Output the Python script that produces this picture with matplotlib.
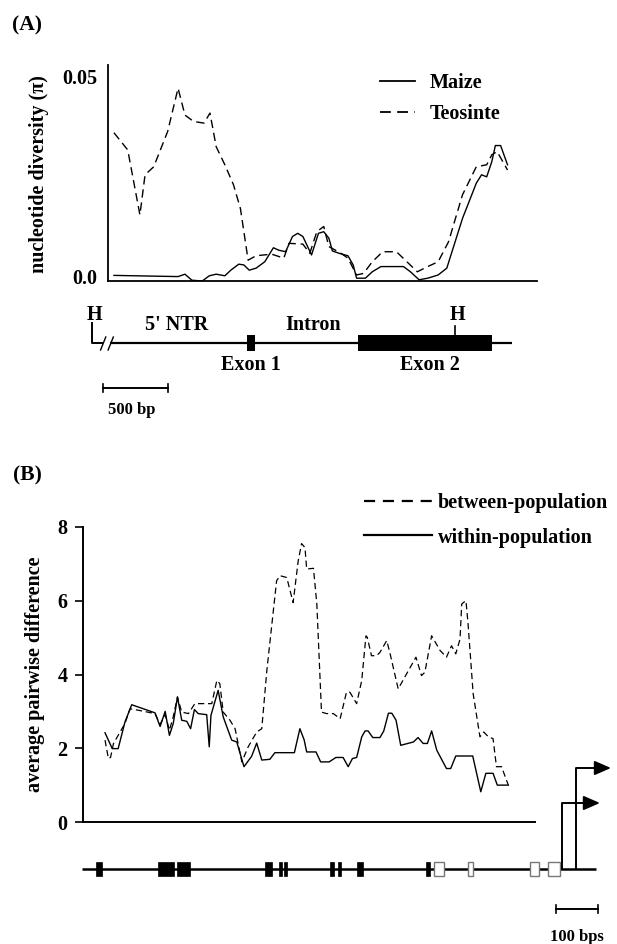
import matplotlib
matplotlib.use('Agg')
import matplotlib.pyplot as plt
from matplotlib.lines import Line2D
from matplotlib.patches import Rectangle

W, H = 617, 944
plt.rcParams['font.family'] = ['Liberation Serif', 'DejaVu Serif']
plt.rcParams['font.weight'] = 'bold'
FS = 14.5

# ---------------- Panel A data (position in bp, nucleotide diversity) ----------------
posA_teo = [44, 146, 236, 274, 338, 441, 518, 569, 633, 710, 754, 800, 864, 928, 979,
            1036, 1095, 1210, 1300, 1338, 1441, 1492, 1544, 1595, 1633, 1723, 1774, 1838,
            1890, 1954, 2031, 2133, 2210, 2287, 2364, 2441, 2518, 2621, 2723, 2800, 2838,
            2877, 2954]
pi_teo = [0.0360, 0.0317, 0.0155, 0.0255, 0.0275, 0.0363, 0.0471, 0.0404, 0.0388, 0.0384,
          0.0409, 0.0325, 0.0280, 0.0230, 0.0171, 0.0042, 0.0053, 0.0057, 0.0047, 0.0084,
          0.0082, 0.0059, 0.0113, 0.0126, 0.0076, 0.0059, 0.0047, 0.0005, 0.0009, 0.0038,
          0.0063, 0.0063, 0.0038, 0.0013, 0.0026, 0.0038, 0.0088, 0.0205, 0.0275, 0.0280,
          0.0305, 0.0313, 0.0267]
posA_maize = [44, 518, 569, 620, 697, 749, 800, 864, 908, 967, 1005, 1044, 1095, 1159, 1223,
              1261, 1313, 1364, 1403, 1441, 1505, 1556, 1595, 1633, 1659, 1710, 1774, 1813,
              1838, 1903, 1954, 2018, 2185, 2236, 2300, 2364, 2441, 2505, 2621, 2723, 2762,
              2800, 2838, 2864, 2903, 2954]
pi_maize = [0.0004, 0.0001, 0.0007, -0.0008, -0.0010, 0.0003, 0.0007, 0.0003, 0.0017, 0.0032,
            0.0030, 0.0017, 0.0022, 0.0038, 0.0073, 0.0067, 0.0063, 0.0101, 0.0109, 0.0101,
            0.0055, 0.0109, 0.0113, 0.0097, 0.0065, 0.0059, 0.0053, 0.0030, -0.0003, -0.0003,
            0.0013, 0.0026, 0.0026, 0.0013, -0.0007, -0.0003, 0.0005, 0.0022, 0.0146, 0.0234,
            0.0255, 0.0250, 0.0288, 0.0328, 0.0328, 0.0280]
yticksA = [0.0, 0.05]
yticklabelsA = ['0.0', '0.05']

# Gene structure A (bp, relative to the HindIII site)
lineA = (138, 3230)
exonA_start = [1192, 2046]
exonA_end = [1254, 3076]
exonA_names = ['Exon 1', 'Exon 2']
hsites = [0, 2792]
scaleA = (85, 585)

# ---------------- Panel B data (position in bp, average pairwise difference) ----------------
posB_within = [52, 69, 83, 99, 115, 170, 182, 194, 204, 213, 223, 233, 245, 254, 263, 272, 292,
               298, 302, 319, 331, 351, 363, 380, 398, 410, 422, 441, 453, 499, 512, 522, 528,
               550, 561, 581, 597, 614, 626, 636, 646, 658, 666, 673, 684, 701, 710, 721, 729,
               739, 750, 780, 791, 803, 813, 823, 835, 858, 868, 880, 920, 939, 951, 968, 978,
               1004]
within = [2.42, 1.99, 1.99, 2.71, 3.18, 2.96, 2.59, 3.00, 2.35, 2.67, 3.39, 2.76, 2.73, 2.53,
          3.05, 2.94, 2.91, 2.04, 2.89, 3.57, 2.85, 2.22, 2.17, 1.50, 1.78, 2.14, 1.68, 1.70,
          1.88, 1.88, 2.53, 2.23, 1.90, 1.90, 1.63, 1.63, 1.75, 1.75, 1.50, 1.72, 1.75, 2.31,
          2.47, 2.47, 2.29, 2.29, 2.47, 2.95, 2.95, 2.76, 2.08, 2.17, 2.29, 2.13, 2.13, 2.47,
          1.95, 1.45, 1.45, 1.79, 1.79, 0.82, 1.32, 1.32, 1.00, 1.00]
posB_between = [52, 60, 65, 72, 99, 111, 131, 170, 182, 194, 204, 213, 223, 233, 249, 264, 304,
                316, 323, 331, 347, 359, 375, 390, 410, 422, 434, 457, 465, 481, 496, 508, 516,
                524, 528, 544, 552, 563, 575, 591, 607, 622, 630, 646, 658, 668, 671, 681, 693,
                701, 717, 725, 744, 786, 799, 807, 823, 843, 858, 870, 880, 890, 894, 898, 904,
                909, 921, 937, 946, 957, 968, 976, 988, 1004]
between = [2.22, 1.72, 1.75, 2.13, 2.67, 3.07, 3.03, 2.94, 2.65, 2.91, 2.49, 2.85, 3.39, 2.98,
           2.94, 3.21, 3.21, 3.84, 3.75, 2.98, 2.76, 2.53, 1.63, 2.04, 2.44, 2.53, 4.11, 6.54,
           6.68, 6.63, 5.95, 7.08, 7.55, 7.44, 6.86, 6.88, 5.91, 2.98, 2.94, 2.94, 2.80, 3.52,
           3.52, 3.21, 3.84, 5.05, 5.01, 4.51, 4.51, 4.60, 4.92, 4.56, 3.61, 4.47, 3.97, 4.06,
           5.05, 4.65, 4.47, 4.78, 4.56, 4.96, 5.91, 5.95, 6.00, 5.37, 3.48, 2.31, 2.44, 2.31,
           2.26, 1.50, 1.50, 1.00]
yticksB = [0, 2, 4, 6, 8]

# Gene structure B (bp)
lineB = (-2, 1211)
filled_start = [29.5, 177, 222, 429.5, 462.6, 475.5, 583, 602, 646.6, 809.5]
filled_end = [43.9, 215, 252.5, 446, 469.6, 481.4, 592, 609, 661, 818]
open_start = [828, 908.6, 1055, 1097]
open_end = [852, 920.4, 1075, 1126]
tss_pos = [1130, 1163]
tss_height = [66, 101]
tss_tip = [1220, 1246]
scaleB = (1116, 1215)

# ---------------- figure ----------------
fig = plt.figure(figsize=(W / 100, H / 100), dpi=100)


def px_axes(l, t, r, b):
    return fig.add_axes([l / W, 1 - b / H, (r - l) / W, (b - t) / H])


def fpos(x, y):
    return x / W, 1 - y / H


txt = dict(fontsize=FS, fontweight='bold', color='black')

# Panel A plot
axA = px_axes(108, 65, 537, 281)
axA.plot(posA_teo, pi_teo, color='black', lw=1.0, ls=(0, (6, 3.5)))
axA.plot(posA_maize, pi_maize, color='black', lw=1.0)
axA.set_xlim(0, 3172)
axA.set_ylim(-0.001, 0.0529)
axA.set_yticks(yticksA)
axA.set_yticklabels(yticklabelsA)
axA.set_xticks([])
axA.tick_params(axis='y', length=0, pad=8, labelsize=FS)
for s in ['top', 'right']:
    axA.spines[s].set_visible(False)
for s in ['left', 'bottom']:
    axA.spines[s].set_linewidth(1.3)
for lab in axA.get_yticklabels():
    lab.set_fontweight('bold')
legA = axA.legend([Line2D([], [], color='k', lw=1.3),
                   Line2D([], [], color='k', lw=1.3, ls=(0, (6, 3.5)))],
                  ['Maize', 'Teosinte'], loc='upper left',
                  bbox_to_anchor=fpos(380, 73), bbox_transform=fig.transFigure,
                  frameon=False, borderpad=0, borderaxespad=0, handlelength=1.75,
                  handletextpad=0.7, labelspacing=0.55,
                  prop={'family': 'Liberation Serif', 'weight': 'bold', 'size': FS})
fig.text(*fpos(39, 174), 'nucleotide diversity (\u03c0)', rotation=90, ha='center',
         va='center', **txt)
fig.text(*fpos(27, 25), '(A)', ha='center', va='center', fontsize=15.5, fontweight='bold')

# Gene diagram A
gA = px_axes(80, 295, 537, 420)
gA.set_xlim((80 - 92) * 7.69, (537 - 92) * 7.69)
gA.set_ylim(-77, 48)
gA.axis('off')
gA.plot(lineA, [0, 0], color='k', lw=1.6, solid_capstyle='butt')
gA.plot([hsites[0], hsites[0], 77], [20, 0, 0], color='k', lw=1.4)
for s0 in [66, 124]:
    gA.plot([s0, s0 + 40], [-7, 6], color='k', lw=1.0)
for xs, xe in zip(exonA_start, exonA_end):
    gA.add_patch(Rectangle((xs, -8.5), xe - xs, 16, facecolor='k', edgecolor='k', lw=0))
gA.plot([hsites[1], hsites[1]], [7, 17], color='k', lw=1.2)
for hx in hsites:
    gA.text(hx + 20, 28, 'H', ha='center', va='center', **txt)
gA.text(654, 18, "5' NTR", ha='center', va='center', **txt)
gA.text(1700, 18, 'Intron', ha='center', va='center', **txt)
for xs, xe, nm in zip(exonA_start, exonA_end, exonA_names):
    cx = (xs + xe) / 2 if nm == 'Exon 1' else 2600
    gA.text(cx, -22, nm, ha='center', va='center', **txt)
gA.plot(scaleA, [-45, -45], color='k', lw=1.4)
for sx in scaleA:
    gA.plot([sx, sx], [-49, -41], color='k', lw=1.2)
gA.text(sum(scaleA) / 2 - 27, -67, '500 bp', ha='center', va='center', fontsize=12,
        fontweight='bold')

# Panel B plot
axB = px_axes(83, 527, 535, 822)
axB.plot(posB_between, between, color='black', lw=0.9, ls=(0, (5, 3)))
axB.plot(posB_within, within, color='black', lw=1.0)
axB.set_xlim(0, 1067)
axB.set_ylim(0, 8)
axB.set_yticks(yticksB)
axB.set_xticks([])
axB.tick_params(axis='y', length=6, width=1.2, pad=5, labelsize=FS)
for s in ['top', 'right']:
    axB.spines[s].set_visible(False)
for s in ['left', 'bottom']:
    axB.spines[s].set_linewidth(1.4)
for lab in axB.get_yticklabels():
    lab.set_fontweight('bold')
legB = axB.legend([Line2D([], [], color='k', lw=1.6, ls=(0, (5, 3.5))),
                   Line2D([], [], color='k', lw=1.6)],
                  ['between-population', 'within-population'], loc='upper left',
                  bbox_to_anchor=fpos(364, 493), bbox_transform=fig.transFigure,
                  frameon=False, borderpad=0, borderaxespad=0, handlelength=3.4,
                  handletextpad=0.25, labelspacing=0.72,
                  prop={'family': 'Liberation Serif', 'weight': 'bold', 'size': FS})
fig.text(*fpos(35, 674), 'average pairwise difference', rotation=90, ha='center',
         va='center', **txt)
fig.text(*fpos(27, 475), '(B)', ha='center', va='center', fontsize=15.5, fontweight='bold')

# Gene diagram B
gB = px_axes(70, 755, 617, 944)
gB.set_xlim((70 - 83) * 2.36, (617 - 83) * 2.36)
gB.set_ylim(-75, 114)
gB.axis('off')
gB.plot(lineB, [0, 0], color='k', lw=1.8, solid_capstyle='butt', zorder=1)
for xs, xe in zip(filled_start, filled_end):
    gB.add_patch(Rectangle((xs, -7), xe - xs, 14, facecolor='k', edgecolor='k', lw=0.5,
                           zorder=2))
for xs, xe in zip(open_start, open_end):
    gB.add_patch(Rectangle((xs, -7), xe - xs, 14, facecolor='white', edgecolor='#777777',
                           lw=1.0, zorder=2))
for tx, th, tt in zip(tss_pos, tss_height, tss_tip):
    gB.plot([tx, tx, tt - 25], [0, th, th], color='k', lw=1.4, zorder=3)
    gB.annotate('', xy=(tt, th), xytext=(tt - 30, th),
                arrowprops=dict(arrowstyle='-|>,head_length=0.55,head_width=0.24',
                                mutation_scale=18, color='k', lw=1.4, shrinkA=0, shrinkB=0))
gB.plot(scaleB, [-40, -40], color='k', lw=1.4)
for sx in scaleB:
    gB.plot([sx, sx], [-44, -36], color='k', lw=1.2)
gB.text(sum(scaleB) / 2, -68, '100 bps', ha='center', va='center', fontsize=12,
        fontweight='bold')

fig.savefig('out.png', dpi=100)
